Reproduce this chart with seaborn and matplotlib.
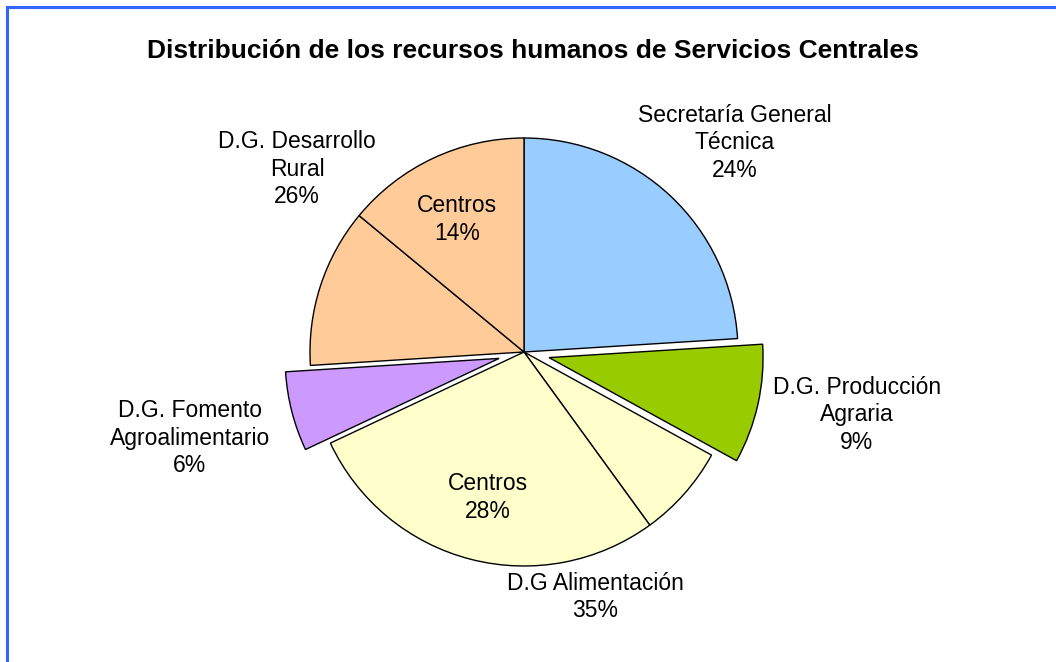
import matplotlib
matplotlib.use("Agg")
from matplotlib import pyplot as plt
from matplotlib.patches import Rectangle
import seaborn as sns

# data (percent of staff)
direcciones = ["Secretaría General\nTécnica", "D.G. Producción\nAgraria", "D.G Alimentación",
               "D.G. Fomento\nAgroalimentario", "D.G. Desarrollo\nRural"]
porcentajes = [24, 9, 35, 6, 26]
centros = [0, 0, 28, 0, 14]  # share of each direction that belongs to "Centros"

colores = ["#99CCFF", "#99CC00", "#FFFFCC", "#CC99FF", "#FFCC99"]
separado = [0, 0.12, 0, 0.12, 0]

# label anchors in pie-radius units (direcciones first, then the two "Centros")
pos_direcciones = [(0.986, 0.977), (1.556, -0.294), (0.332, -1.145), (-1.561, -0.402), (-1.061, 0.855)]
pos_centros = {2: (-0.168, -0.678), 4: (-0.313, 0.621)}

sns.set_theme(style="white")
plt.rcParams["font.family"] = ["Liberation Sans", "DejaVu Sans"]

# build wedges: rest of each direction first, then its "Centros" part
valores, wedge_colores, wedge_sep = [], [], []
for pct, cen, col, sep in zip(porcentajes, centros, colores, separado):
    partes = [pct - cen, cen] if cen else [pct]
    for p in partes:
        valores.append(p)
        wedge_colores.append(col)
        wedge_sep.append(sep)

W, H, R = 1056, 662, 214
cx, cy = 524, 352
fig = plt.figure(figsize=(W / 100, H / 100), dpi=100)
ax = fig.add_axes([0, 0, 1, 1])
ax.pie(valores, colors=wedge_colores, explode=wedge_sep, startangle=90, counterclock=False,
       wedgeprops=dict(edgecolor="black", linewidth=1))
ax.set_xlim(-cx / R, (W - cx) / R)
ax.set_ylim(-(H - cy) / R, cy / R)
ax.set_aspect("equal")
ax.axis("off")

fs = 16.5
for nombre, pct, (x, y) in zip(direcciones, porcentajes, pos_direcciones):
    ax.text(x, y, f"{nombre}\n{pct}%", ha="center", va="center", fontsize=fs,
            color="black", linespacing=1.27)
for i, (x, y) in pos_centros.items():
    ax.text(x, y, f"Centros\n{centros[i]}%", ha="center", va="center", fontsize=fs,
            color="black", linespacing=1.27)

fig.text(0.505, 1 - 51 / H, "Distribución de los recursos humanos de Servicios Centrales",
         ha="center", va="center", fontsize=19, fontweight="bold", color="black")

# blue frame (right and bottom edges fall outside the picture)
fig.patches.append(Rectangle((7 / W, -0.1), 1.2, 1.1 - 7 / H, transform=fig.transFigure,
                             fill=False, edgecolor="#3366FF", linewidth=2.2))

fig.savefig("out.png", dpi=100)
